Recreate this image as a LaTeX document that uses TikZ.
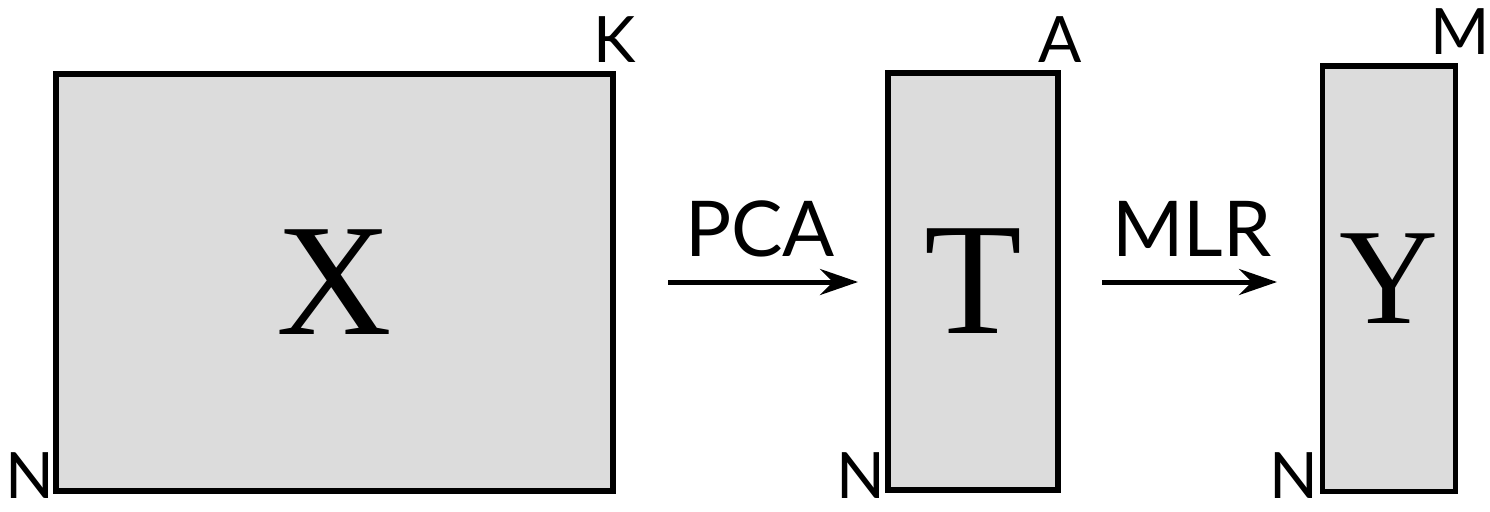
\documentclass[tikz,border=0pt]{standalone}
\usepackage{fontspec}
\setmainfont{Liberation Serif}
\newfontfamily\labfont{Lato}
\usetikzlibrary{arrows.meta}
\definecolor{matfill}{HTML}{DCDCDC}
\tikzset{
  matbox/.style={draw=black, fill=matfill, line width=6pt, inner sep=0pt},
  dimlab/.style={font=\labfont\fontsize{64}{64}\selectfont, anchor=base, inner sep=0pt},
  oplab/.style={font=\labfont\fontsize{77}{77}\selectfont, anchor=base, inner sep=0pt},
  oparrow/.style={line width=5pt, -{Stealth[length=38pt,width=26pt,inset=13pt]}}
}
\begin{document}
\begin{tikzpicture}[x=1pt,y=-1pt]
\useasboundingbox (0,0) rectangle (1490,511);
% matrices
\node[matbox, minimum width=557pt, minimum height=417pt, font=\fontsize{160}{160}\selectfont] (X) at (334.5,282.5) {X};
\node[matbox, minimum width=170pt, minimum height=417pt, font=\fontsize{160}{160}\selectfont] (T) at (973,281.5) {T};
\node[matbox, line width=5pt, minimum width=133pt, minimum height=425pt, font=\fontsize{137}{137}\selectfont] (Y) at (1388.5,278.5) {Y};
% dimension labels
\node[dimlab] (kX) at (615,63) {K};
\node[dimlab] (nX) at (30,498) {N};
\node[dimlab] (aT) at (1060,63) {A};
\node[dimlab] (nT) at (861,498) {N};
\node[dimlab] (mY) at (1460,55) {M};
\node[dimlab] (nY) at (1294,498) {N};
% operations
\node[oplab] (pca) at (760,256) {PCA};
\node[oplab] (mlr) at (1192,256) {MLR};
\coordinate (pcaS) at (668,282);
\coordinate (pcaE) at (858,282);
\coordinate (mlrS) at (1102,282);
\coordinate (mlrE) at (1277,282);
\draw[oparrow] (pcaS) -- (pcaE);
\draw[oparrow] (mlrS) -- (mlrE);
\end{tikzpicture}
\end{document}
